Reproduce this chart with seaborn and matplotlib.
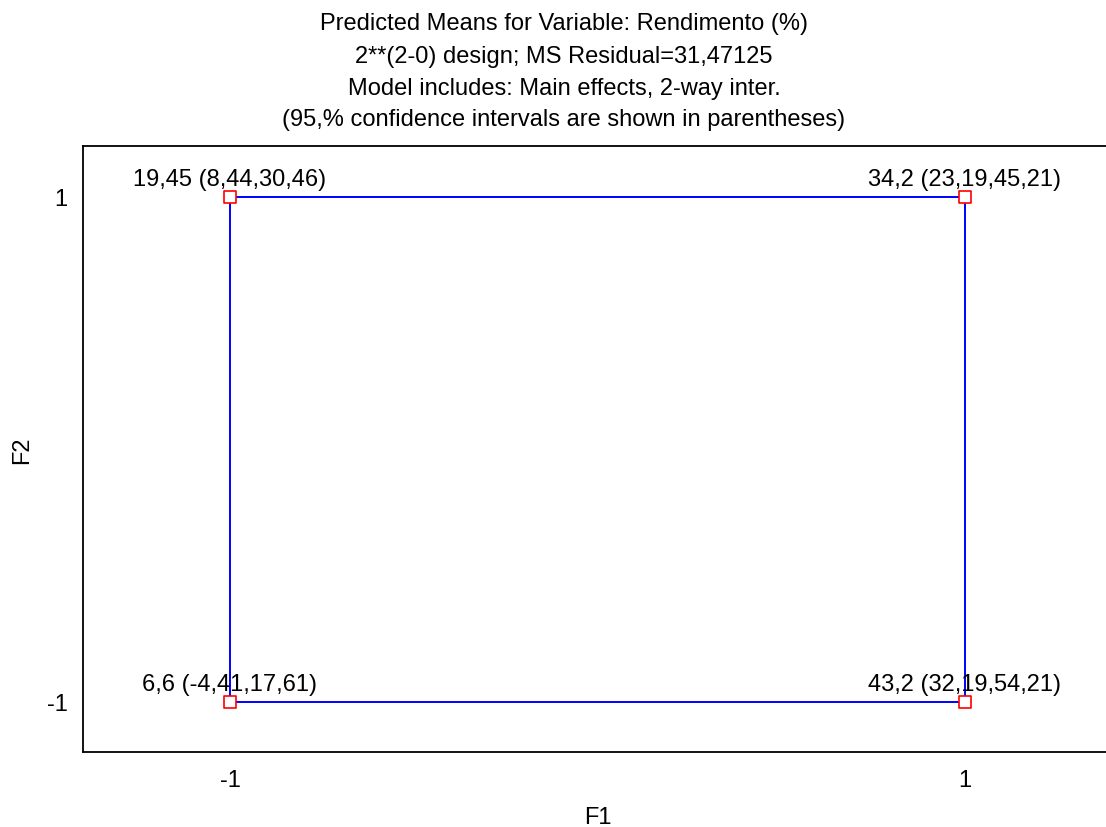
import matplotlib
matplotlib.use("Agg")
import matplotlib.pyplot as plt
import seaborn as sns
import pandas as pd

# ---- data ----
f1 = [-1, -1, 1, 1]
f2 = [-1, 1, -1, 1]
means = ["6,6", "19,45", "43,2", "34,2"]
ci_low = ["-4,41", "8,44", "32,19", "23,19"]
ci_high = ["17,61", "30,46", "54,21", "45,21"]
tick_vals = [-1, 1]
tick_labels = ["-1", "1"]
title_lines = [
    "Predicted Means for Variable: Rendimento (%)",
    "2**(2-0) design; MS Residual=31,47125",
    "Model includes: Main effects, 2-way inter.",
    "(95,% confidence intervals are shown in parentheses)",
]

df = pd.DataFrame({"F1": f1, "F2": f2, "mean": means, "lo": ci_low, "hi": ci_high})

sns.set_theme(style="white")
plt.rcParams["font.family"] = ["Liberation Sans", "DejaVu Sans"]

FS = 17
W, H = 1106, 828
fig = plt.figure(figsize=(W / 100, H / 100), dpi=100)
ax_left, ax_right, ax_top, ax_bottom = 83, 1112, 147, 753
ax = fig.add_axes([ax_left / W, 1 - ax_bottom / H, (ax_right - ax_left) / W, (ax_bottom - ax_top) / H])

# horizontal connecting lines (one per F2 level)
sns.lineplot(data=df, x="F1", y="F2", units="F2", estimator=None, color="#0000ff",
             linewidth=1.4, ax=ax, legend=False, zorder=2)
# vertical connecting lines (one per F1 level)
sns.lineplot(data=df, x="F1", y="F2", units="F1", estimator=None, orient="y", color="#0000ff",
             linewidth=1.4, ax=ax, legend=False, zorder=2)
# markers
sns.scatterplot(data=df, x="F1", y="F2", marker="s", s=72, color="white",
                edgecolor="#ff0000", linewidth=1.2, ax=ax, zorder=3, legend=False)

for _, r in df.iterrows():
    ax.annotate(f"{r['mean']} ({r['lo']},{r['hi']})", (r["F1"], r["F2"]),
                xytext=(0, 8.5), textcoords="offset points", ha="center", va="baseline",
                fontsize=FS, color="black", zorder=4)

ax.set_xlim(-1.4, 1.4)
ax.set_ylim(-1.2, 1.2)
ax.set_xticks(tick_vals)
ax.set_xticklabels(tick_labels)
ax.set_yticks(tick_vals)
ax.set_yticklabels(tick_labels)
ax.tick_params(axis="both", length=0, labelsize=FS, colors="black")
ax.tick_params(axis="x", pad=12.5)
ax.tick_params(axis="y", pad=11)
ax.set_xlabel("F1", fontsize=FS, color="black")
ax.xaxis.label.set_va("baseline")
ax.xaxis.set_label_coords(0.5, (ax_bottom - 824) / (ax_bottom - ax_top))
ax.set_ylabel("F2", fontsize=FS, color="black")
ax.yaxis.label.set_va("center")
ax.yaxis.set_label_coords((22 - ax_left) / (ax_right - ax_left), 0.5)
for side in ["left", "top", "bottom"]:
    ax.spines[side].set_visible(True)
    ax.spines[side].set_color("black")
    ax.spines[side].set_linewidth(1.3)
ax.spines["right"].set_visible(False)
ax.grid(False)

baselines = [30, 62.5, 94.5, 126]
for line, yb in zip(title_lines, baselines):
    fig.text(564 / W, 1 - yb / H, line, ha="center", va="baseline", fontsize=FS, color="black")

fig.savefig("out.png", dpi=100, facecolor="white")
